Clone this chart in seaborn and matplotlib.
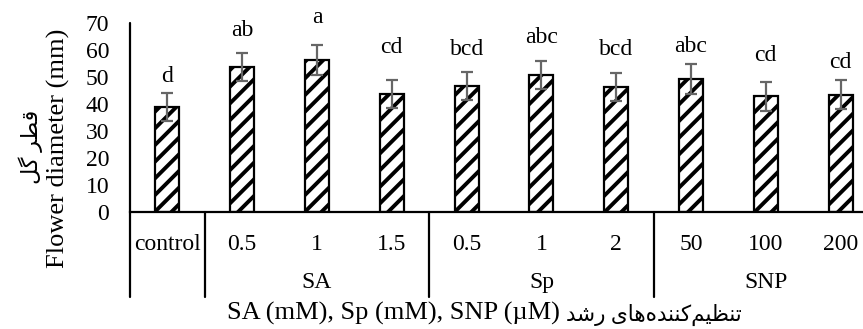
import matplotlib
matplotlib.use('Agg')
import matplotlib.pyplot as plt
import seaborn as sns
import pandas as pd
import numpy as np

# ---- data ----
groups = ["control", "SA", "SA", "SA", "Sp", "Sp", "Sp", "SNP", "SNP", "SNP"]
doses = ["control", "0.5", "1", "1.5", "0.5", "1", "2", "50", "100", "200"]
diameter = [39.0, 53.8, 56.5, 43.6, 46.6, 50.8, 46.4, 49.3, 42.9, 43.5]
errors = [5.1, 5.2, 5.6, 5.2, 5.2, 5.2, 5.2, 5.6, 5.4, 5.3]
letters = ["d", "ab", "a", "cd", "bcd", "abc", "bcd", "abc", "cd", "cd"]
letter_y = [48.3, 65.2, 70.1, 59.0, 58.4, 62.7, 58.4, 59.2, 55.9, 53.4]
group_names = ["SA", "Sp", "SNP"]
yticks = [0, 10, 20, 30, 40, 50, 60, 70]

# Persian strings (presentation forms, visual order)
fa_ylabel = "\uFEDE\uFB94 \uFEAE\uFEC4\uFED7"  # قطر گل
fa_xlabel = ("\uFEAA\uFEB7\uFEAD \uFBFC\uFE8E\uFEEB\uFEE9\uFEAA\uFEE8\uFEE8\uFB90"
             "\uFEE2\uFBFF\uFEC8\uFEE8\uFE97")  # تنظیم‌کننده‌های رشد
en_xlabel = "SA (mM), Sp (mM), SNP (\u00b5M)"
en_ylabel = "Flower diameter (mm)"

sns.set_theme(style="white")
plt.rcParams['font.family'] = ['Liberation Serif', 'DejaVu Sans']
plt.rcParams['hatch.linewidth'] = 2.8
plt.rcParams['hatch.color'] = 'black'

W, H = 863, 329
fig = plt.figure(figsize=(W / 100, H / 100), dpi=100)
ax = fig.add_axes([130 / W, 117 / H, 733 / W, (212 - 23.3) / H])

keys = [f"{g}|{d}" for g, d in zip(groups, doses)]
df = pd.DataFrame({"key": keys, "diameter": diameter, "err": errors})

sns.barplot(data=df, x="key", y="diameter", order=keys, color="white",
            saturation=1, edgecolor="black", linewidth=1.6, hatch="//",
            width=0.32, errorbar=None, ax=ax)
pos = np.arange(len(keys))
ax.errorbar(pos, df["diameter"], yerr=df["err"], fmt="none", ecolor="#666666",
            elinewidth=1.6, capsize=4.5, capthick=1.6, zorder=5)

for x, t, y in zip(pos, letters, letter_y):
    ax.text(x, y, t, ha="center", va="baseline", fontsize=17, color="black")

ax.set_ylim(0, 70)
ax.set_xlim(-0.5, 9.3)
ax.set_yticks(yticks)
ax.set_xticks(pos)
ax.set_xticklabels(doses)
ax.set_xlabel("")
ax.set_ylabel("")
ax.tick_params(axis="both", length=0, labelsize=17, colors="black")
ax.tick_params(axis="y", pad=15)
ax.tick_params(axis="x", pad=16)

for s in ["top", "right", "left"]:
    ax.spines[s].set_visible(False)
ax.spines["bottom"].set_color("black")
ax.spines["bottom"].set_linewidth(1.6)

low = -31.6
ax.axvline(-0.5, ymin=low / 70, ymax=1, color="black", lw=1.6, clip_on=False)
for xb in [0.5, 3.5, 6.5]:
    ax.axvline(xb, ymin=low / 70, ymax=0, color="black", lw=1.6, clip_on=False)

# group labels
for gname in group_names:
    idx = [i for i, g in enumerate(groups) if g == gname]
    ax.text(np.mean(idx), -26.0, gname, ha="center", va="center", fontsize=17,
            color="black", clip_on=False)

fig.text(560 / W, 1 - 313 / H, en_xlabel, ha="right", va="center",
         fontsize=19, color="black")
fig.text(566 / W, 1 - 315 / H, fa_xlabel, ha="left", va="center",
         fontsize=15.5, color="black")
fig.text(58 / W, 1 - 148 / H, en_ylabel, rotation=90, ha="center", va="center",
         fontsize=19, color="black")
fig.text(31 / W, 1 - 147 / H, fa_ylabel, rotation=90, ha="center", va="center",
         fontsize=16, color="black")

fig.savefig("out.png", dpi=100)
